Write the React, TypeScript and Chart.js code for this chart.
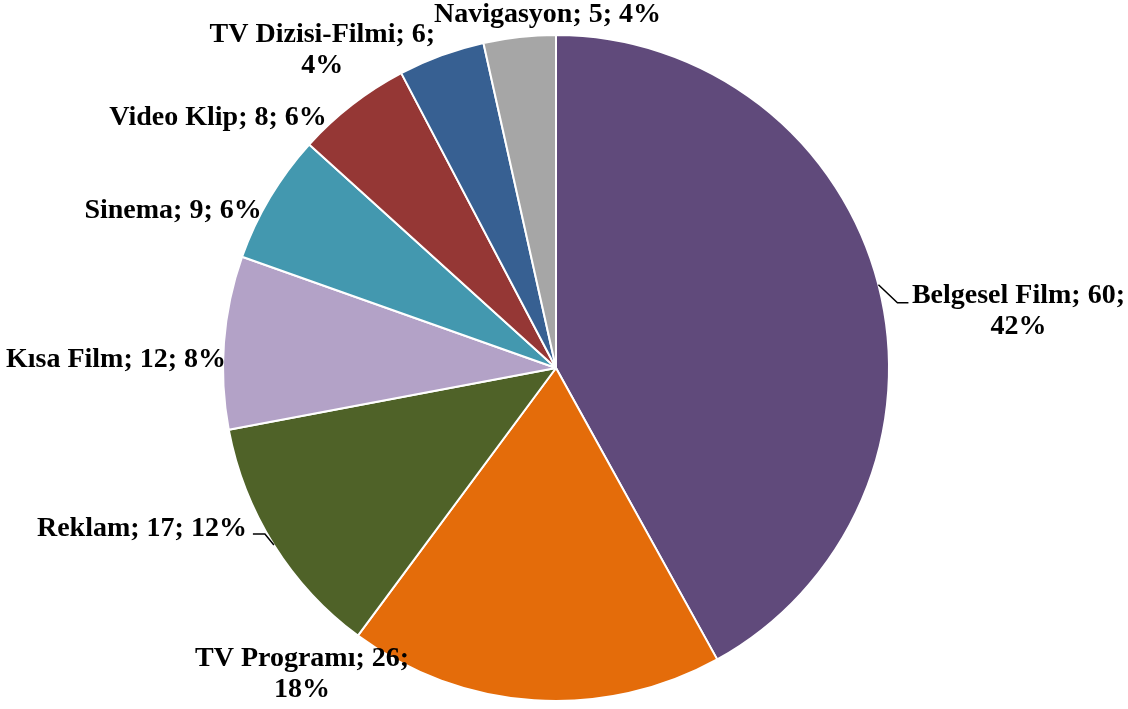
import React, { useEffect, useRef } from "react";
import { Chart, registerables } from "chart.js";

Chart.register(...registerables);

const categories = [
  "Belgesel Film",
  "TV Programı",
  "Reklam",
  "Kısa Film",
  "Sinema",
  "Video Klip",
  "TV Dizisi-Filmi",
  "Navigasyon",
];
const counts = [60, 26, 17, 12, 9, 8, 6, 5];
const percents = [42, 18, 12, 8, 6, 6, 4, 4];
const colors = [
  "#604A7B",
  "#E46C0A",
  "#4F6228",
  "#B3A2C7",
  "#4398AF",
  "#953735",
  "#376092",
  "#A6A6A6",
];
// label layout: offset of text centre / first baseline from arc outer midpoint, line breaking
const labelOffsets: [number, number][] = [
  [140, 18],
  [-232, -34],
  [-132, -9],
  [-108, 25],
  [-97, 21],
  [-134, 20],
  [-119, -13],
  [28, -15],
];
const twoLine = [true, true, false, false, false, false, true, false];
// leader lines: [elbow dx, elbow dy, end dx, end dy] relative to arc point
const leaders: (number[] | null)[] = [
  [19, 18, 30, 18],
  null,
  [-9, -11, -21, -11],
  null,
  null,
  null,
  null,
  null,
];

const labelPlugin = {
  id: "pieLabels",
  afterDatasetsDraw(chart: any) {
    const ctx = chart.ctx;
    const meta = chart.getDatasetMeta(0);
    ctx.save();
    ctx.font = "bold 28px 'Liberation Serif', 'Times New Roman', serif";
    ctx.fillStyle = "#000";
    ctx.textAlign = "center";
    ctx.textBaseline = "alphabetic";
    meta.data.forEach((arc: any, i: number) => {
      const { x, y, startAngle, endAngle, outerRadius } = arc.getProps(
        ["x", "y", "startAngle", "endAngle", "outerRadius"],
        true
      );
      const mid = (startAngle + endAngle) / 2;
      const px = x + Math.cos(mid) * outerRadius;
      const py = y + Math.sin(mid) * outerRadius;
      const [dx, dy] = labelOffsets[i];
      const line1 = `${categories[i]}; ${counts[i]};`;
      const pct = `${percents[i]}%`;
      if (twoLine[i]) {
        ctx.fillText(line1, px + dx, py + dy);
        ctx.fillText(pct, px + dx, py + dy + 31);
      } else {
        ctx.fillText(`${line1} ${pct}`, px + dx, py + dy);
      }
      const l = leaders[i];
      if (l) {
        ctx.beginPath();
        ctx.strokeStyle = "#000";
        ctx.lineWidth = 1.5;
        ctx.moveTo(px, py);
        ctx.lineTo(px + l[0], py + l[1]);
        ctx.lineTo(px + l[2], py + l[3]);
        ctx.stroke();
      }
    });
    ctx.restore();
  },
};

export default function App() {
  const ref = useRef<HTMLCanvasElement>(null);
  useEffect(() => {
    const chart = new Chart(ref.current!, {
      type: "pie",
      data: {
        labels: categories,
        datasets: [
          {
            data: counts,
            backgroundColor: colors,
            borderColor: "#ffffff",
            borderWidth: 2,
          },
        ],
      },
      options: {
        animation: false,
        responsive: true,
        maintainAspectRatio: false,
        layout: { padding: { top: 34, bottom: 7, left: 222, right: 238 } },
        plugins: {
          legend: { display: false },
          tooltip: { enabled: false },
        },
      },
      plugins: [labelPlugin],
    });
    return () => chart.destroy();
  }, []);
  return (
    <div style={{ position: "absolute", left: 0, top: 0, width: 1128, height: 709, background: "#fff" }}>
      <canvas ref={ref} />
    </div>
  );
}
